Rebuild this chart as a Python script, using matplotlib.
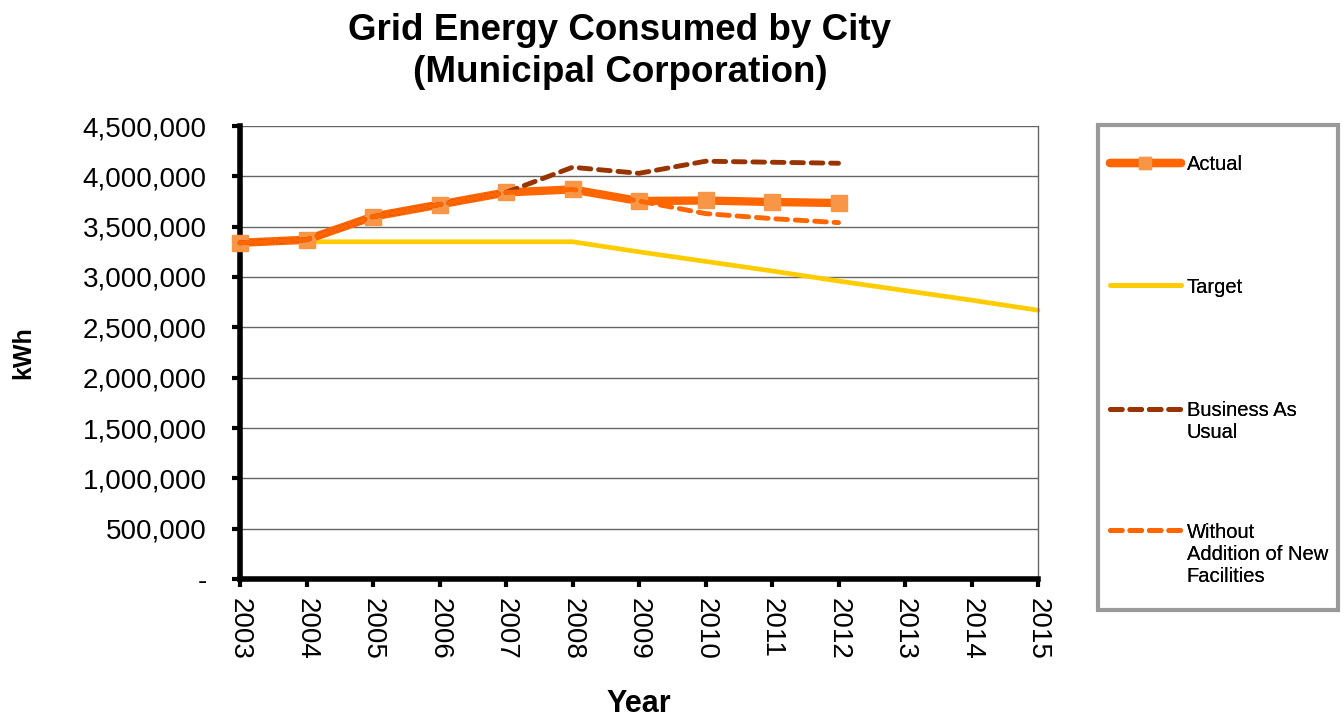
import matplotlib
matplotlib.use("Agg")
import matplotlib.pyplot as plt
import matplotlib.transforms as mtransforms
from matplotlib.patches import Rectangle
from matplotlib.ticker import FuncFormatter
from matplotlib.legend_handler import HandlerLine2D

plt.rcParams['font.family'] = ['Liberation Sans', 'DejaVu Sans']

years = [2003, 2004, 2005, 2006, 2007, 2008, 2009, 2010, 2011, 2012, 2013, 2014, 2015]
actual_years = [2003, 2004, 2005, 2006, 2007, 2008, 2009, 2010, 2011, 2012]
actual = [3340000, 3370000, 3600000, 3720000, 3840000, 3870000, 3755000, 3760000, 3745000, 3735000]
target = [3350000, 3350000, 3350000, 3350000, 3350000, 3350000, 3250000, 3155000, 3060000,
          2960000, 2865000, 2770000, 2670000]
bau = [3340000, 3370000, 3600000, 3720000, 3840000, 4090000, 4030000, 4150000, 4140000, 4130000]
without_new = [3340000, 3370000, 3600000, 3720000, 3840000, 3870000, 3755000, 3630000, 3580000, 3540000]


class UpHandler(HandlerLine2D):
    # puts the legend line next to the first line of a multi-line label
    def __init__(self, shift, **kw):
        super().__init__(**kw)
        self.shift = shift

    def create_artists(self, legend, orig_handle, xdescent, ydescent, width, height, fontsize, trans):
        arts = super().create_artists(legend, orig_handle, xdescent, ydescent, width, height, fontsize, trans)
        for a in arts:
            a.set_transform(mtransforms.Affine2D().translate(0, self.shift) + trans)
        return arts


fig = plt.figure(figsize=(13.44, 7.21), dpi=100)
ax = fig.add_axes([240/1344, 1-579/721, (1038-240)/1344, (579-126)/721])

l_act, = ax.plot(actual_years, actual, color='#FF6600', lw=6, marker='s', ms=11,
                 mfc='#F79646', mec='#F79646', solid_capstyle='round', clip_on=False, zorder=3)
l_tgt, = ax.plot(years, target, color='#FFCC00', lw=3.4, solid_capstyle='round', clip_on=False, zorder=2)
l_bau, = ax.plot(actual_years, bau, color='#993300', lw=3.5, ls=(0, (2.4, 1.6)),
                 dash_capstyle='round', clip_on=False, zorder=4)
l_wo, = ax.plot(actual_years, without_new, color='#FF6600', lw=3.5, ls=(0, (2.4, 1.6)),
                dash_capstyle='round', clip_on=False, zorder=5)

ax.set_xlim(2003, 2015)
ax.set_ylim(0, 4500000)
ax.set_xticks(years)
ax.set_xticklabels([str(y) for y in years], rotation=270, fontsize=20)
ax.set_yticks(range(0, 4500001, 500000))
ax.yaxis.set_major_formatter(FuncFormatter(lambda v, p: f"{v:,.0f}" if v else "-"))
ax.tick_params(axis='y', labelsize=20, length=6, width=3, direction='out', pad=18)
ax.tick_params(axis='x', length=6, width=3, direction='out', pad=8)
ax.grid(axis='y', color='#666666', lw=1)
ax.set_axisbelow(True)

for s in ['left', 'bottom']:
    ax.spines[s].set_linewidth(4)
    ax.spines[s].set_color('black')
ax.spines['top'].set_visible(False)
ax.spines['right'].set_color('#666666')
ax.spines['right'].set_linewidth(1)

ax.set_ylabel('kWh', fontsize=18, fontweight='bold', labelpad=34)
ax.set_xlabel('Year', fontsize=22, fontweight='bold', labelpad=21)
fig.text(620/1344, 1-30/721, 'Grid Energy Consumed by City', ha='center', va='center',
         fontsize=26.5, fontweight='bold')
fig.text(620/1344, 1-72/721, '(Municipal Corporation)', ha='center', va='center',
         fontsize=26.5, fontweight='bold')

# legend frame
fig.patches.append(Rectangle((1098/1344, 1-610/721), 240/1344, 485/721, transform=fig.transFigure,
                             fill=False, edgecolor='#999999', lw=3))

fs = 14.5
entries = [(l_act, 'Actual', 165), (l_tgt, 'Target', 287),
           (l_bau, 'Business As\nUsual', 421), (l_wo, 'Without\nAddition of New\nFacilities', 554)]
for h, lab, yc in entries:
    nlines = lab.count('\n') + 1
    shift = (nlines - 1) / 2 * fs * 1.2
    lg = fig.legend([h], [lab], loc='center left', bbox_to_anchor=(1100/1344, 1-yc/721),
                    frameon=False, fontsize=fs, handlelength=3.5, handletextpad=0.3,
                    borderpad=0, numpoints=1, markerscale=0.8,
                    handler_map={h: UpHandler(shift)})
    fig.add_artist(lg)

fig.savefig('out.png', dpi=100)
